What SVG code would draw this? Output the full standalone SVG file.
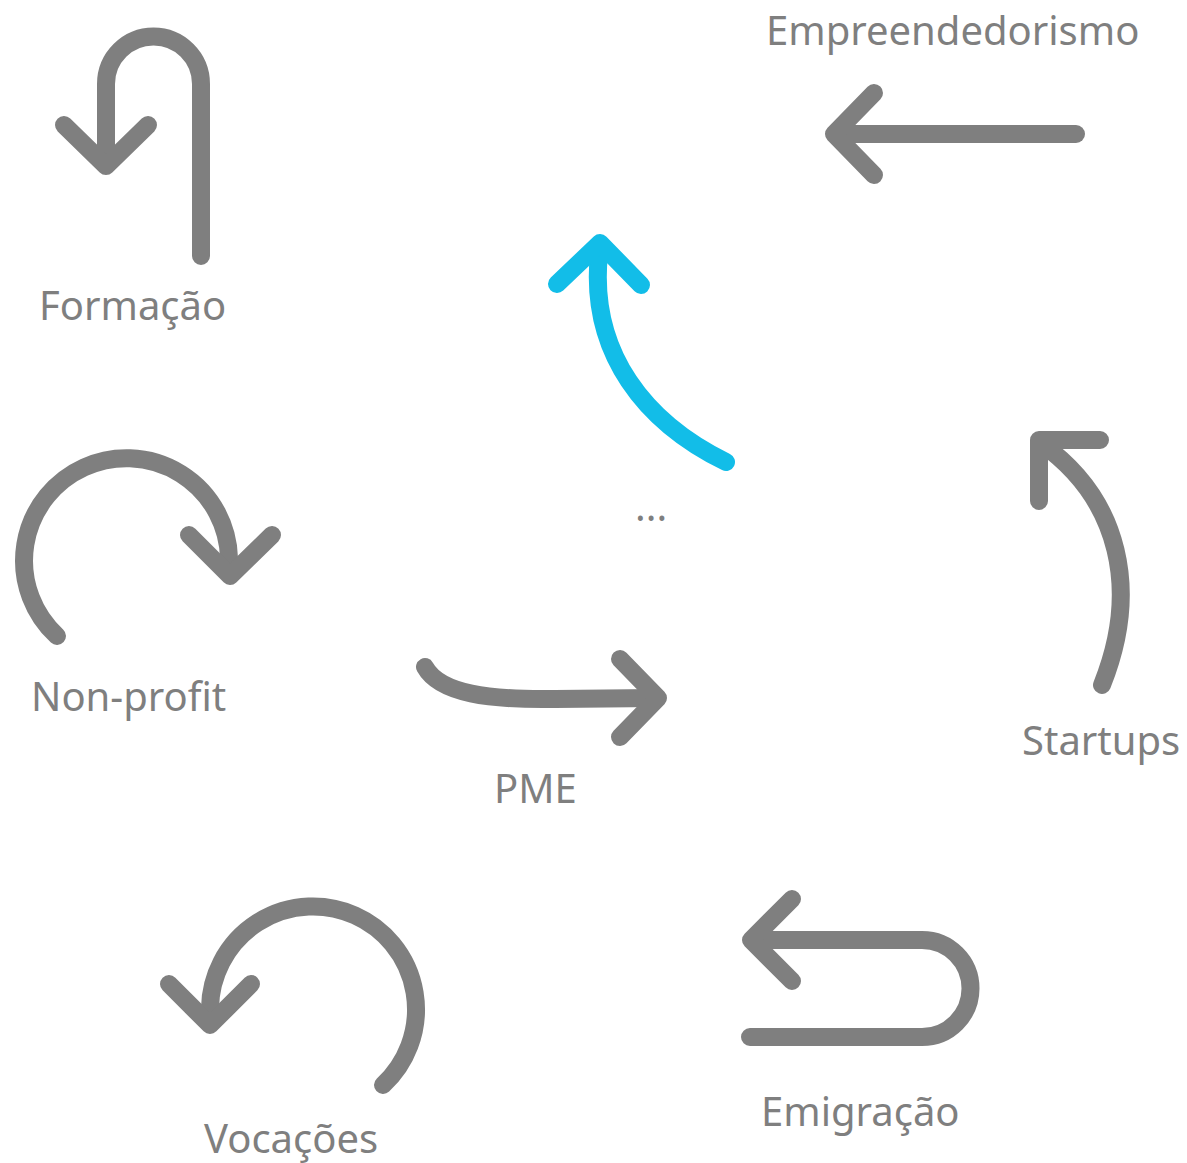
<svg xmlns="http://www.w3.org/2000/svg" width="1187" height="1163" viewBox="0 0 1187 1163">
<style>
.a{fill:none;stroke:#7f7f7f;stroke-width:18;stroke-linecap:round;stroke-linejoin:round}
.b{fill:none;stroke:#12bde8;stroke-width:18;stroke-linecap:round;stroke-linejoin:round}
.t{font-family:"Noto Sans","Open Sans","Liberation Sans",sans-serif;font-size:40px;fill:#7f7f7f}
</style>
<rect width="1187" height="1163" fill="#ffffff"/>
<g id="connectors">
<g id="formacao-arrow"><path class="a" d="M201,256 V84 A47.5,47.5 0 0 0 106,84 V164"/><path class="a" d="M64,125 L106,166 L148,125"/></g>
<g id="nonprofit-arrow"><path class="a" d="M57,636 A102.5,102.5 0 1 1 229,558 V574"/><path class="a" d="M189,535 L230,576 L272,535"/></g>
<g id="pme-arrow"><path class="a" d="M425,667 C440,694 490,700 555,699 L656,698"/><path class="a" d="M620,659 L658,698 L620,737"/></g>
<g id="blue-arrow"><path class="b" d="M726,462 C650,425 585,355 600,246"/><path class="b" d="M557,284 L600,243 L641,285"/></g>
<g id="startups-arrow"><path class="a" d="M1102,685 C1140,590 1120,500 1042,444"/><path class="a" d="M1100,440 L1039,440 L1039,501"/></g>
<g id="empreend-arrow"><path class="a" d="M1076,134 H836"/><path class="a" d="M874,93 L834,134 L874,175"/></g>
<g id="emigracao-arrow"><path class="a" d="M750,1037 H922 A48.5,48.5 0 0 0 922,940 H752"/><path class="a" d="M792,899 L751,940 L792,981"/></g>
<g id="vocacoes-arrow"><path class="a" d="M383,1085 A103,103 0 1 0 210,1008 V1023"/><path class="a" d="M169,984 L210,1025 L251,984"/></g>
</g>
<g id="node-formacao"><text class="t" x="39" y="320">Formação</text></g>
<g id="node-nonprofit"><text class="t" x="31" y="711">Non-profit</text></g>
<g id="node-pme"><text class="t" x="494" y="803">PME</text></g>
<g id="node-ellipsis"><text class="t" x="635" y="521">...</text></g>
<g id="node-startups"><text class="t" x="1022" y="755">Startups</text></g>
<g id="node-empreend"><text class="t" x="766" y="45">Empreendedorismo</text></g>
<g id="node-emigracao"><text class="t" x="761" y="1126">Emigração</text></g>
<g id="node-vocacoes"><text class="t" x="204" y="1153">Vocações</text></g>
</svg>
